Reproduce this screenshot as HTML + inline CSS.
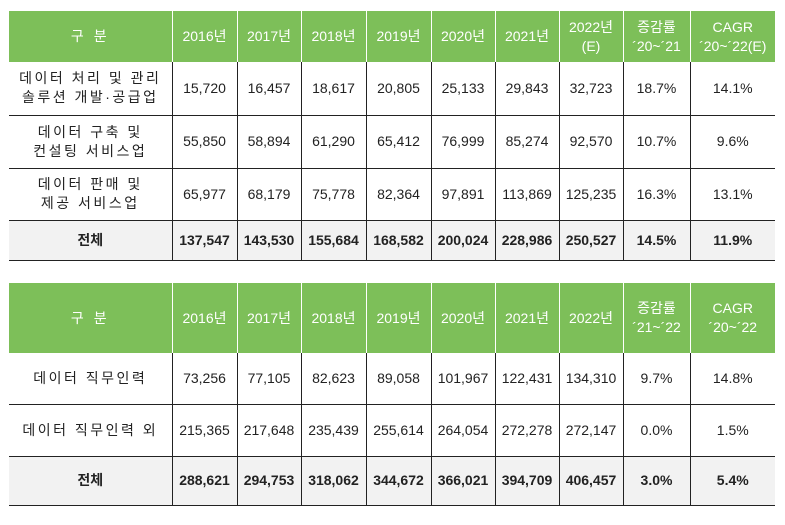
<!DOCTYPE html>
<html><head><meta charset="utf-8"><style>
body{margin:0;width:785px;height:525px;background:#fff;font-family:"Liberation Sans","Noto Sans CJK KR",sans-serif;position:relative;overflow:hidden}
table{position:absolute;left:9px;border-collapse:collapse;table-layout:fixed;width:766px}
td{text-align:center;font-size:14px;color:#222;padding:0;border:1px solid #222;border-top:none;line-height:19px}
tr.h td{background:#7dbf59;color:#fff;border:none;border-left:1px solid #fff}
tr.h td:first-child{border-left:none;letter-spacing:3px}
tr.t td{background:#f2f2f2;font-weight:bold}
td:first-child{border-left:none}
td:last-child{border-right:none}
.s{font-size:14px;letter-spacing:2.5px}
</style></head><body>
<table style="top:11px">
<colgroup><col style="width:163px"><col style="width:65px"><col style="width:64px"><col style="width:65px"><col style="width:65px"><col style="width:64px"><col style="width:64px"><col style="width:64px"><col style="width:67px"><col style="width:85px"></colgroup>
<tr class="h" style="height:51px"><td>구 분</td><td>2016년</td><td>2017년</td><td>2018년</td><td>2019년</td><td>2020년</td><td>2021년</td><td>2022년<br>(E)</td><td>증감률<br>´20~´21</td><td>CAGR<br>´20~´22(E)</td></tr>
<tr style="height:53px"><td class="s">데이터 처리 및 관리<br>솔루션 개발·공급업</td><td>15,720</td><td>16,457</td><td>18,617</td><td>20,805</td><td>25,133</td><td>29,843</td><td>32,723</td><td>18.7%</td><td>14.1%</td></tr>
<tr style="height:53px"><td class="s">데이터 구축 및<br>컨설팅 서비스업</td><td>55,850</td><td>58,894</td><td>61,290</td><td>65,412</td><td>76,999</td><td>85,274</td><td>92,570</td><td>10.7%</td><td>9.6%</td></tr>
<tr style="height:52px"><td class="s">데이터 판매 및<br>제공 서비스업</td><td>65,977</td><td>68,179</td><td>75,778</td><td>82,364</td><td>97,891</td><td>113,869</td><td>125,235</td><td>16.3%</td><td>13.1%</td></tr>
<tr class="t" style="height:40px"><td>전체</td><td>137,547</td><td>143,530</td><td>155,684</td><td>168,582</td><td>200,024</td><td>228,986</td><td>250,527</td><td>14.5%</td><td>11.9%</td></tr>
</table>
<table style="top:283px">
<colgroup><col style="width:163px"><col style="width:65px"><col style="width:64px"><col style="width:65px"><col style="width:65px"><col style="width:64px"><col style="width:64px"><col style="width:64px"><col style="width:67px"><col style="width:85px"></colgroup>
<tr class="h" style="height:70px"><td>구 분</td><td>2016년</td><td>2017년</td><td>2018년</td><td>2019년</td><td>2020년</td><td>2021년</td><td>2022년</td><td>증감률<br>´21~´22</td><td>CAGR<br>´20~´22</td></tr>
<tr style="height:51px"><td class="s">데이터 직무인력</td><td>73,256</td><td>77,105</td><td>82,623</td><td>89,058</td><td>101,967</td><td>122,431</td><td>134,310</td><td>9.7%</td><td>14.8%</td></tr>
<tr style="height:52px"><td class="s">데이터 직무인력 외</td><td>215,365</td><td>217,648</td><td>235,439</td><td>255,614</td><td>264,054</td><td>272,278</td><td>272,147</td><td>0.0%</td><td>1.5%</td></tr>
<tr class="t" style="height:49px"><td>전체</td><td>288,621</td><td>294,753</td><td>318,062</td><td>344,672</td><td>366,021</td><td>394,709</td><td>406,457</td><td>3.0%</td><td>5.4%</td></tr>
</table>
</body></html>
